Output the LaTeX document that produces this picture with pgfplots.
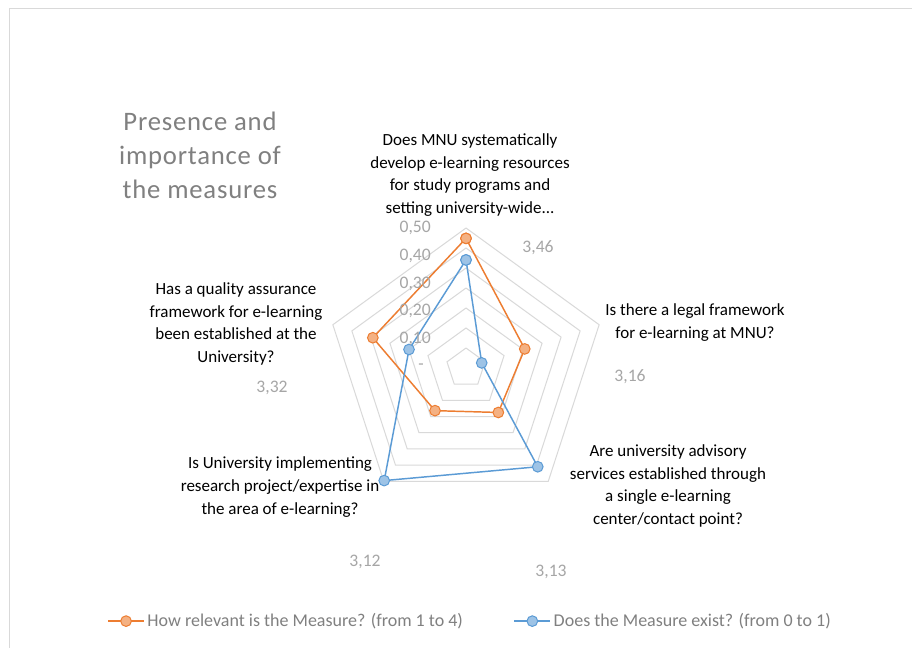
\documentclass[border=0pt]{standalone}
\usepackage{fontspec}
\setmainfont{Carlito}
\usepackage{pgfplots}
\usepackage{pgfplotstable}
\pgfplotsset{compat=1.18}
\usepgfplotslibrary{polar}
\definecolor{orangeL}{HTML}{ED7D31}
\definecolor{orangeF}{HTML}{F4B183}
\definecolor{blueL}{HTML}{5B9BD5}
\definecolor{blueF}{HTML}{9DC3E6}
\definecolor{gridc}{HTML}{D9D9D9}
\definecolor{lbl}{HTML}{A6A6A6}
\definecolor{ttl}{HTML}{808080}
\newcommand\catfont{\fontsize{12.75pt}{17pt}\selectfont}
\newcommand\smallfont{\fontsize{13.2pt}{15pt}\selectfont}
\newcommand\legfont{\fontsize{13.5pt}{16pt}\selectfont}
\newcommand\titlefont{\fontsize{20pt}{25.5pt}\selectfont\addfontfeature{LetterSpace=3}}

% How relevant is the Measure? (from 1 to 4)
\pgfplotstableread{
a v
90 3.46
18 3.16
-54 3.13
-126 3.12
162 3.32
90 3.46
}\relevance

% Does the Measure exist? (from 0 to 1)
\pgfplotstableread{
a v
90 0.386
18 0.059
-54 0.436
-126 0.497
162 0.214
90 0.386
}\existence

\begin{document}
\begin{tikzpicture}[x=0.75pt,y=-0.75pt]
\useasboundingbox (0,0) rectangle (912,648);
\fill[white] (0,0) rectangle (912,648);
\draw[gridc, line width=0.75pt] (9,648) -- (9,9) -- (912,9);

\begin{polaraxis}[
  at={(349.5pt,-276pt)}, anchor=center,
  scale only axis, width=210pt, height=210pt,
  ymin=0, ymax=0.5, hide axis, clip=false,
  legend columns=2,
  legend style={at={(-0.782,-0.404)}, anchor=west, draw=none, fill=none,
    font=\legfont, text=ttl, inner sep=0pt,
    /tikz/every even column/.append style={column sep=36pt}},
  legend image code/.code={\draw[mark repeat=2,mark phase=2,#1] plot coordinates {(0pt,0pt) (13.5pt,0pt) (27pt,0pt)};},
]
\pgfplotsinvokeforeach{0.0714,0.1429,0.2143,0.2857,0.3571,0.4286,0.5}{
  \addplot[gridc, line width=0.75pt, no marks, forget plot] coordinates {(90,#1) (18,#1) (-54,#1) (-126,#1) (162,#1) (90,#1)};
}
\addplot[orangeL, line width=1.1pt, mark=*, mark size=4pt,
  mark options={fill=orangeF, draw=orangeL, line width=0.75pt}]
  table[x=a, y expr={0.808*(\thisrow{v}-2.887)}] {\relevance};
\addlegendentry{How relevant is the Measure? (from 1 to 4)}
\addplot[blueL, line width=1.1pt, mark=*, mark size=4pt,
  mark options={fill=blueF, draw=blueL, line width=0.75pt}]
  table[x=a, y=v] {\existence};
\addlegendentry{Does the Measure exist? (from 0 to 1)}
\end{polaraxis}

% title
\node[align=center, text=ttl, font=\titlefont] at (200,155) {Presence and\\importance of\\the measures};

% category labels
\node[align=center, font=\catfont] at (470,175) {Does MNU systematically\\develop e-learning resources\\for study programs and\\setting university-wide...};
\node[align=center, font=\catfont] at (695,322.5) {Is there a legal framework\\for e-learning at MNU?};
\node[align=center, font=\catfont] at (668,486) {Are university advisory\\services established through\\a single e-learning\\center/contact point?};
\node[align=center, font=\catfont] at (280,487) {Is University implementing\\research project/expertise in\\the area of e-learning?};
\node[align=center, font=\catfont] at (236,324) {Has a quality assurance\\framework for e-learning\\been established at the\\University?};

% radial tick labels
\begin{scope}[every node/.style={anchor=east, text=lbl, font=\smallfont, inner sep=0pt}]
\node at (431,228) {0,50};
\node at (431,256) {0,40};
\node at (431,284) {0,30};
\node at (431,311) {0,20};
\node at (431,339) {0,10};
\node at (424,367) {-};
\end{scope}

% data labels
\begin{scope}[every node/.style={text=lbl, font=\smallfont, inner sep=0pt}]
\node at (538,248) {3,46};
\node at (630,377) {3,16};
\node at (551,572) {3,13};
\node at (365,562) {3,12};
\node at (272,388) {3,32};
\end{scope}
\end{tikzpicture}
\end{document}
